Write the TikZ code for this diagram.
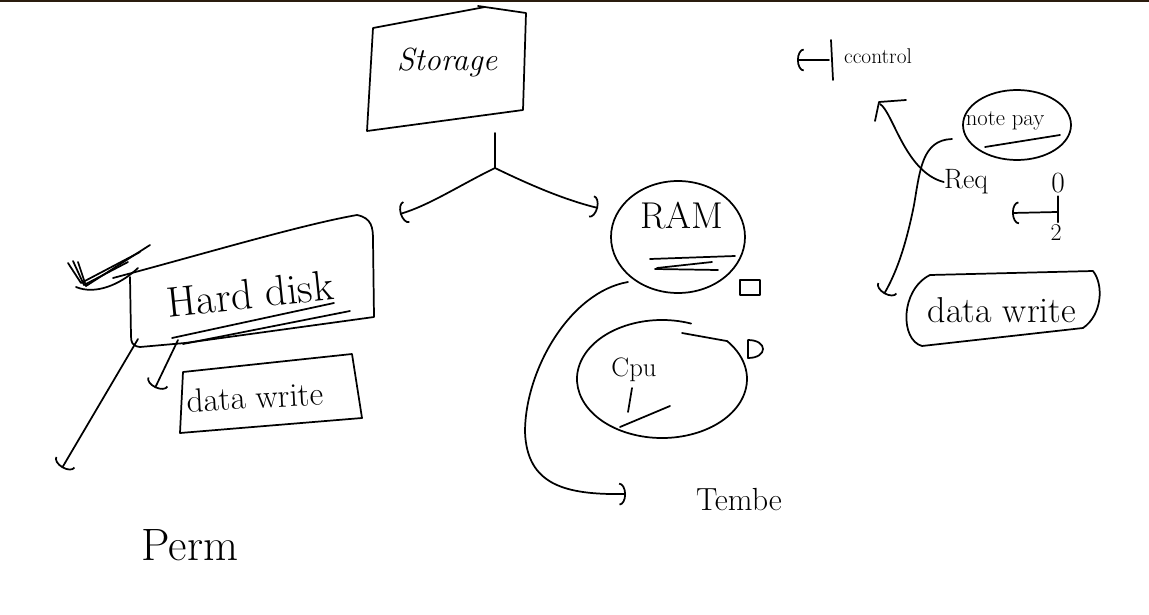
\documentclass[tikz,border=0pt]{standalone}
\usetikzlibrary{arrows.meta}
\begin{document}
\begin{tikzpicture}[x=0.75pt,y=-0.75pt,
  ink/.style={draw=black,line width=1.3pt,line cap=round,line join=round},
  hook/.style={ink,-{Arc Barb[length=5pt,width=17pt,line width=1.3pt]}},
  lbl/.style={inner sep=0pt,text=black}]
\useasboundingbox (0,0) rectangle (1149,614);
\fill[white] (0,0) rectangle (1149,614);
\fill[black!78!brown] (0,0) rectangle (1149,2);

% ---------------- Storage ----------------
\draw[ink] (373,28) -- (485,7) (478,6) -- (526,13) -- (523,110) -- (367,131) -- (373,28);
\node[lbl,font=\fontsize{24pt}{26pt}\selectfont\itshape] (storage) at (447,62) {Storage};
\coordinate (stemtop) at (495,133);
\coordinate (fork) at (495,168);
\coordinate (hdin) at (400,214);
\coordinate (ramin) at (598,208);
\draw[ink] (stemtop) -- (fork);
\draw[hook] (fork) .. controls (460,185) and (430,205) .. (hdin);
\draw[hook] (fork) .. controls (530,185) and (565,200) .. (ramin);

% ---------------- Hard disk ----------------
\draw[ink] (113,278) .. controls (200,255) and (300,225) .. (357,215)
   .. controls (372,218) and (373,228) .. (373,240) -- (374,317)
   -- (185,343) -- (140,347) .. controls (132,346) and (131,342) .. (131,336) -- (130,277);
\node[lbl,font=\fontsize{32pt}{36pt}\selectfont,rotate=6] (harddisk) at (250,294) {Hard disk};
\draw[ink] (172,338) -- (334,303);
\draw[ink] (183,344) -- (350,311);
% check marks
\draw[ink] (68,263) -- (81,283) -- (140,252);
\draw[ink] (73,261) -- (84,285) -- (128,262);
\draw[ink] (78,262) -- (86,286) -- (150,245);
\draw[ink] (76,287) .. controls (95,295) and (120,285) .. (138,268);
% arrows from hard disk
\coordinate (hdleft) at (138,339);
\coordinate (perment) at (62,468);
\draw[hook] (hdleft) -- (perment);
\coordinate (hdunder) at (178,340);
\coordinate (dwin) at (155,388);
\draw[hook] (hdunder) -- (dwin);
% data write box (left)
\draw[ink] (183,372) -- (352,354) -- (362,418) -- (180,433) -- (183,372);
\node[lbl,font=\fontsize{25pt}{28pt}\selectfont,rotate=3] (dwleft) at (255,397) {data write};
\node[lbl,font=\fontsize{34pt}{36pt}\selectfont] (perm) at (190,545) {Perm};

% ---------------- RAM ----------------
\draw[ink] (678,237) ellipse [x radius=67,y radius=56];
\node[lbl,font=\fontsize{28pt}{30pt}\selectfont] (ram) at (682,216) {RAM};
\draw[ink] (650,259) -- (735,256);
\draw[ink] (657,268) -- (712,262);
\draw[ink] (655,269) -- (718,270);
\draw[ink] (740,280) rectangle (760,295);
\draw[ink] (748,340) -- (748,358) .. controls (768,358) and (768,340) .. (748,340);

% ---------------- CPU ----------------
\draw[ink] (662,379) ++(-70:85 and 59) coordinate (cputop)
  arc [start angle=-70,end angle=-400,x radius=85,y radius=59] -- (682,333);
\node[lbl,font=\fontsize{20pt}{22pt}\selectfont] (cpu) at (634,370) {Cpu};
\draw[ink] (632,388) -- (628,412);
\draw[ink] (620,427) -- (670,406);

% big curve RAM -> Tembe
\coordinate (ramout) at (628,282);
\coordinate (tempin) at (626,494);
\draw[hook] (ramout) .. controls (570,292) and (525,370) .. (525,432)
  .. controls (527,485) and (565,495) .. (tempin);
\node[lbl,font=\fontsize{24pt}{26pt}\selectfont] (tembe) at (739,500) {Tembe};

% ---------------- top right ----------------
\coordinate (ctlbar) at (829,60);
\coordinate (ctlend) at (797,60);
\draw[hook] (ctlbar) -- (ctlend);
\draw[ink] (831,40) -- (833,80);
\node[lbl,font=\fontsize{16pt}{18pt}\selectfont] (control) at (878,56) {ccontrol};

\draw[ink] (1017,125) ellipse [x radius=54,y radius=35];
\node[lbl,font=\fontsize{17pt}{20pt}\selectfont] (notepay) at (1005,121) {note pay};
\draw[ink] (985,147) -- (1060,135);
\node[lbl,font=\fontsize{21pt}{24pt}\selectfont] (req) at (966,182) {Req};

\coordinate (reqtop) at (880,104);
\draw[ink] (req.west) .. controls (905,172) and (893,112) .. (reqtop);
\draw[ink] (875,121) -- (879,102) -- (906,100);

\coordinate (npleft) at (952,139);
\coordinate (dwrin) at (884,294);
\draw[hook] (npleft) .. controls (922,140) and (920,170) .. (914,205)
   .. controls (905,250) and (895,275) .. (dwrin);

\node[lbl,font=\fontsize{22pt}{24pt}\selectfont] (zero) at (1058,183) {0};
\node[lbl,font=\fontsize{18pt}{20pt}\selectfont] (two) at (1056,233) {2};
\draw[ink] (zero.south) ++(0,3) -- ++(0,26);
\coordinate (idxin) at (1012,213);
\draw[hook] (1057,212) -- (idxin);

% data write box (right)
\draw[ink] (930,275) -- (1093,271) .. controls (1104,285) and (1102,315) .. (1083,328)
   -- (922,346) .. controls (900,340) and (900,290) .. (930,275);
\node[lbl,font=\fontsize{27pt}{30pt}\selectfont] (dwright) at (1002,310) {data write};
\end{tikzpicture}
\end{document}
